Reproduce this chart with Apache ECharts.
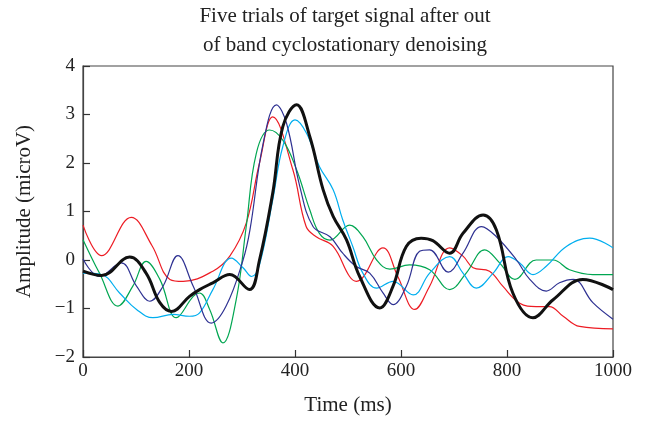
<!DOCTYPE html>
<html><head><meta charset="utf-8">
<script src="https://cdn.jsdelivr.net/npm/echarts@6/dist/echarts.min.js"></script>
<style>html,body{margin:0;padding:0;background:#fff}#c{width:648px;height:421px}</style>
</head><body><div id="c"></div>
<script>
const titleText = "Five trials of target signal after out\nof band cyclostationary denoising";
const xTicks = [0, 200, 400, 600, 800, 1000];
const yTicks = [-2, -1, 0, 1, 2, 3, 4];

const redT = [0, 35, 91, 130, 164, 189, 245, 277, 308, 333, 358, 396, 421, 440, 472, 503, 516, 566, 594, 626, 654, 692, 717, 736, 767, 792, 824, 855, 880, 906, 937, 1000];
const redV = [0.72, 0.09, 0.88, 0.3, -0.40, -0.44, -0.23, 0.08, 0.76, 2.0, 2.95, 1.86, 0.69, 0.48, 0.28, -0.34, -0.44, 0.25, -0.34, -1.02, -0.54, 0.25, 0.08, -0.16, -0.23, -0.54, -0.89, -0.96, -0.96, -1.16, -1.37, -1.42];

const blackT = [0, 35, 88, 119, 145, 167, 201, 220, 245, 277, 314, 333, 358, 377, 403, 428, 453, 472, 497, 522, 560, 585, 610, 638, 660, 692, 717, 755, 780, 811, 849, 887, 943, 1000];
const blackV = [-0.23, -0.32, 0.06, -0.27, -0.88, -1.06, -0.75, -0.61, -0.47, -0.30, -0.61, 0.0, 1.38, 2.75, 3.2, 2.54, 1.45, 0.90, 0.42, -0.34, -0.99, -0.54, 0.28, 0.45, 0.40, 0.14, 0.55, 0.93, 0.62, -0.68, -1.19, -0.82, -0.40, -0.61];

const navyT = [0, 31, 72, 101, 126, 151, 179, 208, 242, 270, 302, 315, 340, 365, 384, 409, 434, 466, 490, 515, 541, 566, 585, 610, 635, 654, 689, 717, 752, 780, 818, 843, 874, 899, 925, 962, 1000];
const navyV = [0.02, -0.34, -0.06, -0.54, -0.85, -0.54, 0.09, -0.54, -1.30, -0.95, 0.0, 0.62, 2.41, 3.2, 2.82, 1.52, 0.69, 0.48, 0.14, -0.13, -0.27, -0.68, -0.92, -0.54, 0.18, 0.21, -0.25, 0.14, 0.69, 0.48, 0.0, -0.40, -0.64, -0.47, -0.40, -0.88, -1.22];

const greenT = [0, 31, 66, 94, 119, 145, 176, 208, 220, 239, 264, 289, 308, 327, 352, 377, 403, 428, 446, 466, 503, 528, 554, 579, 616, 654, 692, 723, 758, 786, 815, 855, 887, 918, 962, 1000];
const greenV = [0.42, -0.27, -0.95, -0.54, -0.03, -0.40, -1.19, -0.75, -0.68, -1.02, -1.71, -0.82, 0.69, 2.2, 2.68, 2.47, 1.86, 1.03, 0.55, 0.41, 0.72, 0.48, 0.0, -0.19, -0.10, -0.20, -0.61, -0.27, 0.21, -0.06, -0.40, 0.0, 0.0, -0.20, -0.30, -0.30];

const cyanT = [0, 35, 69, 101, 132, 170, 201, 220, 245, 280, 302, 318, 333, 358, 377, 400, 422, 446, 472, 490, 509, 528, 554, 585, 623, 654, 692, 717, 742, 774, 802, 824, 849, 874, 912, 956, 1000];
const cyanV = [-0.27, -0.30, -0.68, -1.02, -1.19, -1.12, -1.16, -1.09, -0.61, 0.04, -0.16, -0.34, -0.10, 1.24, 2.34, 2.89, 2.61, 1.93, 1.45, 0.83, 0.28, -0.27, -0.58, -0.44, -0.72, -0.27, 0.07, -0.27, -0.58, -0.27, 0.07, -0.06, -0.30, -0.13, 0.28, 0.45, 0.25];

const zip = (t, v) => t.map((x, i) => [x, v[i]]);
const serif = "'Liberation Serif', 'DejaVu Serif', serif";
const minus = v => String(v).replace('-', '\u2212');

const mk = (name, t, v, color, w) => ({
  name, type: 'line', data: zip(t, v), smooth: 0.4, showSymbol: false,
  lineStyle: { color, width: w }, z: w > 2 ? 10 : 5
});

const tick = { show: true, inside: false, length: -7, lineStyle: { color: '#333', width: 1.2 } };

const chart = echarts.init(document.getElementById('c'), null, { renderer: 'canvas' });
chart.setOption({
  animation: false,
  backgroundColor: '#fff',
  title: {
    text: titleText, left: 340, top: -3, textAlign: 'center',
    textStyle: { fontFamily: serif, fontSize: 21, fontWeight: 'normal', color: '#222', lineHeight: 29 }
  },
  grid: { left: 83, right: 35, top: 66, bottom: 64, show: true, borderColor: '#444', borderWidth: 1.2 },
  xAxis: {
    type: 'value', min: 0, max: 1000, interval: 200,
    name: 'Time (ms)', nameLocation: 'middle', nameGap: 38,
    nameTextStyle: { fontFamily: serif, fontSize: 21, color: '#222' },
    axisLine: { show: true, onZero: false, lineStyle: { color: '#444', width: 1.2 } },
    axisTick: tick,
    axisLabel: { fontFamily: serif, fontSize: 19, color: '#222', margin: 5, formatter: v => xTicks.includes(v) ? minus(v) : '' },
    splitLine: { show: false }
  },
  yAxis: {
    type: 'value', min: -2, max: 4, interval: 1,
    name: 'Amplitude (microV)', nameLocation: 'middle', nameGap: 48, nameRotate: 90,
    nameTextStyle: { fontFamily: serif, fontSize: 21, color: '#222' },
    axisLine: { show: true, onZero: false, lineStyle: { color: '#444', width: 1.2 } },
    axisTick: tick,
    axisLabel: { fontFamily: serif, fontSize: 19, color: '#222', margin: 8, formatter: v => yTicks.includes(v) ? minus(v) : '' },
    splitLine: { show: false }
  },
  series: [
    mk('Trial 1', redT, redV, '#ed1c24', 1.2),
    mk('Trial 2', greenT, greenV, '#00a651', 1.2),
    mk('Trial 3', cyanT, cyanV, '#00aeef', 1.2),
    mk('Trial 4', navyT, navyV, '#2e3192', 1.2),
    mk('Trial 5', blackT, blackV, '#111111', 3)
  ]
});
</script></body></html>
